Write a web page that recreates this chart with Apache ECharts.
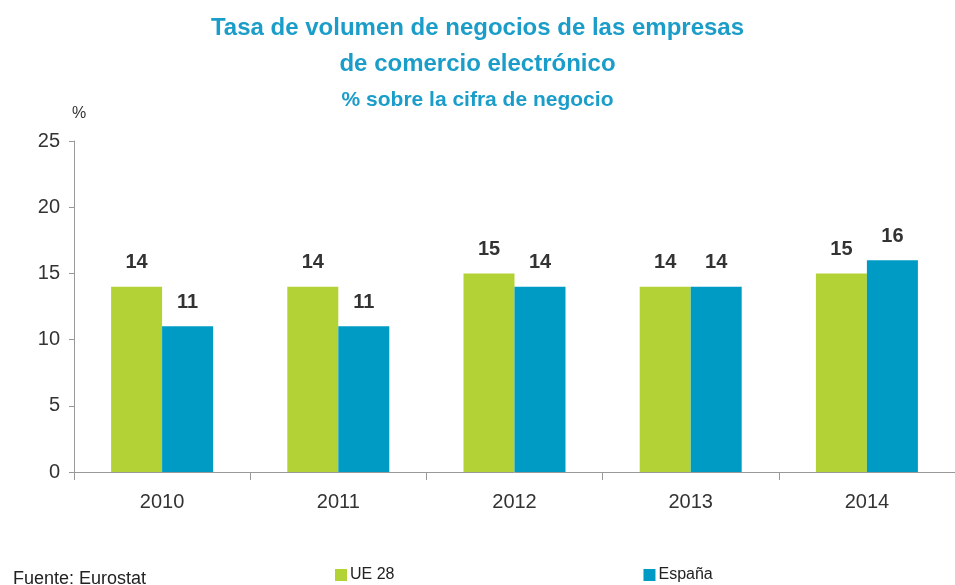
<!DOCTYPE html>
<html>
<head>
<meta charset="utf-8">
<script src="https://cdn.jsdelivr.net/npm/echarts@6/dist/echarts.min.js"></script>
<style>
  html, body { margin: 0; padding: 0; background: #fff; }
  #main { width: 955px; height: 585px; }
</style>
</head>
<body>
<div id="main"></div>
<script>
// datos
const years = ['2010', '2011', '2012', '2013', '2014'];
const ue28 = [14, 14, 15, 14, 15];
const espana = [11, 11, 14, 14, 16];
const yTicks = [0, 5, 10, 15, 20, 25];

const FONT = '"Liberation Sans", sans-serif';
const TITLE_BLUE = '#1b9dc9';

const chart = echarts.init(document.getElementById('main'));

const option = {
  animation: false,
  textStyle: { fontFamily: FONT },
  title: [
    {
      text: 'Tasa de volumen de negocios de las empresas\nde comercio electrónico',
      left: 'center',
      top: 5,
      textStyle: { color: TITLE_BLUE, fontSize: 24, fontWeight: 'bold', fontFamily: FONT, lineHeight: 36 }
    },
    {
      text: '% sobre la cifra de negocio',
      left: 'center',
      top: 85,
      textStyle: { color: TITLE_BLUE, fontSize: 21, fontWeight: 'bold', fontFamily: FONT }
    },
    {
      text: '%',
      left: 67,
      top: 101,
      textStyle: { color: '#333', fontSize: 16, fontWeight: 'normal', fontFamily: FONT }
    },
    {
      text: 'Fuente: Eurostat',
      left: 8,
      top: 565,
      textStyle: { color: '#222', fontSize: 18, fontWeight: 'normal', fontFamily: FONT }
    }
  ],
  legend: {
    data: ['UE 28', 'España'],
    left: 330,
    top: 562,
    itemWidth: 12,
    itemHeight: 12,
    itemGap: 249,
    icon: 'rect',
    textStyle: { color: '#222', fontSize: 16, fontFamily: FONT, padding: [0, 0, 0, -2] }
  },
  grid: {
    left: 74,
    top: 141,
    height: 331,
    right: 0
  },
  xAxis: {
    type: 'category',
    data: years,
    axisLine: { lineStyle: { color: '#999', width: 1 } },
    axisTick: { show: true, length: 8, lineStyle: { color: '#999' } },
    axisLabel: { color: '#333', fontSize: 20, margin: 20, fontFamily: FONT }
  },
  yAxis: {
    type: 'value',
    min: yTicks[0],
    max: yTicks[yTicks.length - 1],
    interval: yTicks[1] - yTicks[0],
    axisLine: { show: true, lineStyle: { color: '#999', width: 1 } },
    axisTick: { show: true, length: 5, lineStyle: { color: '#999' } },
    axisLabel: { color: '#333', fontSize: 20, margin: 14, fontFamily: FONT },
    splitLine: { show: false }
  },
  series: [
    {
      name: 'UE 28',
      type: 'bar',
      data: ue28,
      barWidth: 51,
      barGap: '0%',
      itemStyle: { color: '#b3d235' },
      label: { show: true, position: 'top', distance: 14, color: '#333', fontSize: 20, fontWeight: 'bold', fontFamily: FONT }
    },
    {
      name: 'España',
      type: 'bar',
      data: espana,
      barWidth: 51,
      barGap: '0%',
      itemStyle: { color: '#009bc4' },
      label: { show: true, position: 'top', distance: 14, color: '#333', fontSize: 20, fontWeight: 'bold', fontFamily: FONT }
    }
  ]
};

chart.setOption(option);
</script>
</body>
</html>
